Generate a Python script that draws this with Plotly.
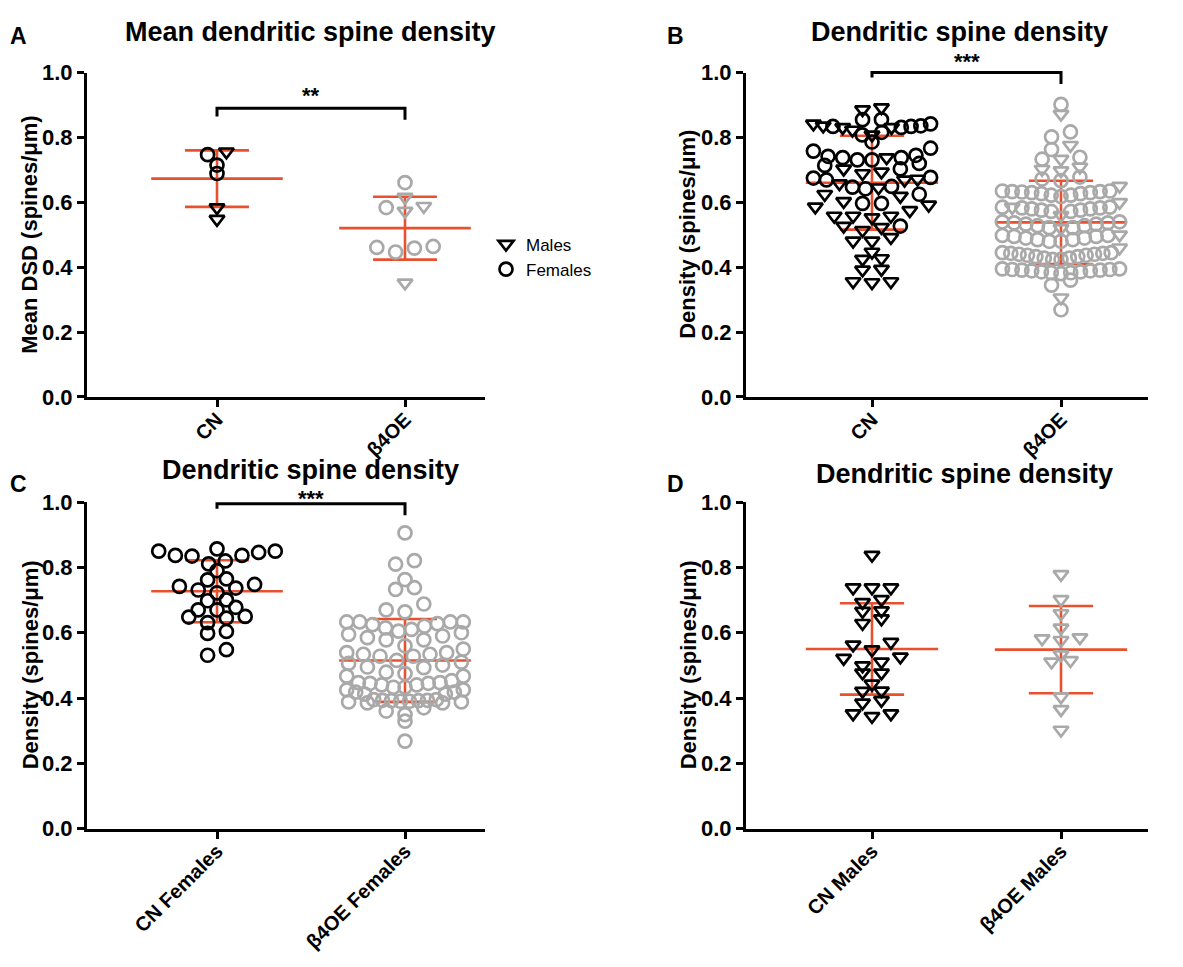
import numpy as np
import plotly.graph_objects as go

W, H = 1183, 967

# ---------------- DATA ----------------
# Panel A: mean DSD per animal
a_categories = ["CN", "β4OE"]
a_cn_male = [0.756, 0.584, 0.548]
a_cn_female = [0.747, 0.715, 0.689]
a_oe_male = [0.616, 0.573, 0.588, 0.352]
a_oe_female = [0.661, 0.584, 0.464, 0.459, 0.447, 0.461]

# Panel B: all dendrites
b_categories = ["CN", "β4OE"]
b_cn_female = [0.855, 0.836, 0.834, 0.831, 0.834, 0.842, 0.855, 0.808, 0.816, 0.786,
               0.758, 0.745, 0.767, 0.742, 0.731, 0.720, 0.703, 0.714, 0.731, 0.738,
               0.738, 0.677, 0.669, 0.649, 0.647, 0.675, 0.625, 0.642, 0.597, 0.597, 0.527]
b_cn_male = [0.892, 0.886, 0.842, 0.831, 0.823, 0.831, 0.836, 0.808, 0.738, 0.703,
             0.694, 0.689, 0.669, 0.645, 0.658, 0.672, 0.619, 0.603, 0.592, 0.575,
             0.625, 0.558, 0.586, 0.553, 0.558, 0.558, 0.523, 0.492, 0.514, 0.527,
             0.481, 0.481, 0.427, 0.425, 0.447, 0.394, 0.392, 0.356, 0.353, 0.356]
b_oe_female = [0.902, 0.817, 0.802, 0.763, 0.739, 0.733, 0.678, 0.672, 0.667,
               0.635, 0.633, 0.632, 0.630, 0.627, 0.622, 0.618, 0.622, 0.627, 0.630, 0.633, 0.635,
               0.585, 0.583, 0.580, 0.576, 0.572, 0.572, 0.576, 0.580, 0.583, 0.585,
               0.540, 0.537, 0.533, 0.528, 0.522, 0.522, 0.528, 0.533, 0.537, 0.540,
               0.498, 0.495, 0.490, 0.485, 0.480, 0.480, 0.485, 0.490, 0.495, 0.498,
               0.445, 0.443, 0.440, 0.437, 0.433, 0.428, 0.424, 0.424, 0.428, 0.433, 0.437, 0.440, 0.443, 0.445,
               0.395, 0.393, 0.391, 0.389, 0.386, 0.383, 0.380, 0.383, 0.386, 0.389, 0.391, 0.393, 0.395,
               0.360, 0.345, 0.269]
b_oe_male = [0.872, 0.776, 0.733, 0.709, 0.702, 0.698, 0.650, 0.600, 0.585, 0.560,
             0.520, 0.500, 0.460, 0.306]

# Panel C: females
c_categories = ["CN Females", "β4OE Females"]
c_cn_female = [0.857, 0.850, 0.837, 0.835, 0.811, 0.820, 0.837, 0.846, 0.850,
               0.765, 0.748, 0.737, 0.731, 0.742, 0.762, 0.790, 0.722,
               0.701, 0.678, 0.650, 0.645, 0.670, 0.670, 0.698, 0.631, 0.648,
               0.604, 0.598, 0.548, 0.531]
c_oe_female = [0.906, 0.821, 0.810, 0.763, 0.738, 0.733, 0.688, 0.670, 0.664,
               0.633, 0.633, 0.628, 0.620, 0.610, 0.600, 0.590, 0.585, 0.595, 0.605, 0.615, 0.625, 0.633, 0.633,
               0.578, 0.578, 0.550, 0.560,
               0.539, 0.534, 0.528, 0.515, 0.510, 0.528, 0.534, 0.539, 0.506, 0.501, 0.495, 0.493,
               0.479, 0.467, 0.453, 0.467, 0.475,
               0.447, 0.445, 0.440, 0.433, 0.425, 0.418, 0.412, 0.412, 0.418, 0.425, 0.433, 0.440, 0.445, 0.447,
               0.395, 0.393, 0.392, 0.390, 0.388, 0.385, 0.385, 0.388, 0.390, 0.392, 0.393, 0.395,
               0.370, 0.360, 0.349, 0.329, 0.268]

# Panel D: males
d_categories = ["CN Males", "β4OE Males"]
d_cn_male = [0.838, 0.738, 0.738, 0.738, 0.702, 0.693, 0.666, 0.668, 0.629, 0.643,
             0.571, 0.563, 0.548, 0.522, 0.526, 0.499, 0.511, 0.477, 0.477, 0.443,
             0.421, 0.422, 0.393, 0.385, 0.352, 0.344, 0.352]
d_oe_male = [0.779, 0.702, 0.659, 0.615, 0.582, 0.577, 0.585, 0.533, 0.511, 0.515,
             0.404, 0.365, 0.302]

y_ticks = [0.0, 0.2, 0.4, 0.6, 0.8, 1.0]

# ---------------- STYLE ----------------
RED = "#E8502E"
BLACK = "#000000"
GREY = "#A9A9A9"
FONT = "Arial, 'Liberation Sans', Helvetica, sans-serif"

# panel frames in pixels: x-axis span, y pixel of 0 and 1, pixel of the two categories
frames = {
    "A": dict(xs=(79, 477), ys=(387, 54), cats=(209, 397), ax="", title="Mean dendritic spine density",
              ytitle="Mean DSD (spines/μm)", labels=a_categories,
              letter=(10, 1, "top"), tpos=(302, 12), ytx=22),
    "B": dict(xs=(738, 1140), ys=(387, 54), cats=(864, 1053), ax="2", title="Dendritic spine density",
              ytitle="Density (spines/μm)", labels=b_categories,
              letter=(668, 1, "top"), tpos=(951, 12), ytx=680),
    "C": dict(xs=(79, 477), ys=(830, 495), cats=(209, 397), ax="3", title="Dendritic spine density",
              ytitle="Density (spines/μm)", labels=c_categories,
              letter=(10, 476, "middle"), tpos=(302, 462), ytx=22),
    "D": dict(xs=(738, 1140), ys=(830, 495), cats=(864, 1053), ax="4", title="Dendritic spine density",
              ytitle="Density (spines/μm)", labels=d_categories,
              letter=(668, 476, "middle"), tpos=(956, 466), ytx=680),
}

for k, f in frames.items():
    unit = f["cats"][1] - f["cats"][0]
    f["xr"] = ((f["xs"][0] - f["cats"][0]) / unit, (f["xs"][1] - f["cats"][0]) / unit)
    f["xd"] = (f["xs"][0] / W, f["xs"][1] / W)
    f["yd"] = (1 - f["ys"][0] / H, 1 - f["ys"][1] / H)


def to_paper(f, xv, yv):
    px = f["xd"][0] + (xv - f["xr"][0]) / (f["xr"][1] - f["xr"][0]) * (f["xd"][1] - f["xd"][0])
    py = f["yd"][0] + yv * (f["yd"][1] - f["yd"][0])
    return px, py


def swarm(vals, bw=0.04, gap=0.018, step=0.1, wmax=0.31):
    vals = np.asarray(vals, float)
    order = np.argsort(vals, kind="stable")
    offs = np.zeros(len(vals))
    rows, cur = [], [order[0]]
    for idx in order[1:]:
        if vals[idx] - vals[cur[-1]] > gap or vals[idx] - vals[cur[0]] > bw:
            rows.append(cur)
            cur = [idx]
        else:
            cur.append(idx)
    rows.append(cur)
    for row in rows:
        n = len(row)
        s = step if n == 1 else min(step, 2 * wmax / (n - 1))
        if n % 2:
            slots = [0] + [k * sg for k in range(1, n // 2 + 1) for sg in (-1, 1)]
        else:
            slots = [(k + 0.5) * sg for k in range(n // 2) for sg in (-1, 1)]
        for idx, sl in zip(row, slots):
            offs[idx] = sl * s
    return offs


fig = go.Figure()

groups = {
    "A": [(a_cn_male, a_cn_female, BLACK), (a_oe_male, a_oe_female, GREY)],
    "B": [(b_cn_male, b_cn_female, BLACK), (b_oe_male, b_oe_female, GREY)],
    "C": [([], c_cn_female, BLACK), ([], c_oe_female, GREY)],
    "D": [(d_cn_male, [], BLACK), (d_oe_male, [], GREY)],
}

MEAN_HW, CAP_HW = 0.35, 0.17
TRI = dict(symbol="triangle-down-open", size=13)
CIR = dict(symbol="circle-open", size=13)
LW = 2.7

for key, f in frames.items():
    xa, ya = "x" + f["ax"], "y" + f["ax"]
    lx, ly = [], []
    for i, (males, females, col) in enumerate(groups[key]):
        v = np.array(list(males) + list(females), float)
        m, sd = v.mean(), v.std(ddof=1)
        lx += [i - MEAN_HW, i + MEAN_HW, None, i, i, None,
               i - CAP_HW, i + CAP_HW, None, i - CAP_HW, i + CAP_HW, None]
        ly += [m, m, None, m - sd, m + sd, None, m + sd, m + sd, None, m - sd, m - sd, None]
    fig.add_trace(go.Scatter(x=lx, y=ly, mode="lines", line=dict(color=RED, width=2.6),
                             xaxis=xa, yaxis=ya, showlegend=False, hoverinfo="skip"))
    for i, (males, females, col) in enumerate(groups[key]):
        v = list(males) + list(females)
        offs = swarm(v)
        nm = len(males)
        if nm:
            fig.add_trace(go.Scatter(x=i + offs[:nm], y=males, mode="markers",
                                     marker=dict(**TRI, color=col, line=dict(width=LW, color=col)),
                                     xaxis=xa, yaxis=ya, showlegend=False))
        if len(females):
            fig.add_trace(go.Scatter(x=i + offs[nm:], y=females, mode="markers",
                                     marker=dict(**CIR, color=col, line=dict(width=LW, color=col)),
                                     xaxis=xa, yaxis=ya, showlegend=False))

# legend entries
fig.add_trace(go.Scatter(x=[None], y=[None], mode="markers", name="Males",
                         marker=dict(**TRI, color=BLACK, line=dict(width=LW, color=BLACK)),
                         xaxis="x", yaxis="y"))
fig.add_trace(go.Scatter(x=[None], y=[None], mode="markers", name="Females",
                         marker=dict(**CIR, color=BLACK, line=dict(width=LW, color=BLACK)),
                         xaxis="x", yaxis="y"))

axis_style = dict(showline=True, linewidth=3, linecolor=BLACK, ticks="outside", ticklen=7,
                  tickwidth=3, tickcolor=BLACK, showgrid=False, zeroline=False, mirror=False)

layout = dict(width=W, height=H, margin=dict(l=0, r=0, t=0, b=0), plot_bgcolor="white",
              paper_bgcolor="white", font=dict(family=FONT, color=BLACK))
annotations = []
shapes = []
for key, f in frames.items():
    xn, yn = "xaxis" + f["ax"], "yaxis" + f["ax"]
    layout[xn] = dict(domain=list(f["xd"]), range=list(f["xr"]), anchor="y" + f["ax"],
                      tickmode="array", tickvals=[0, 1], ticktext=f["labels"], tickangle=-45,
                      ticklabelstandoff=-7,
                      tickfont=dict(family=FONT, size=20, color=BLACK, weight="bold"),
                      **axis_style)
    layout[yn] = dict(domain=list(f["yd"]), range=[0, 1], anchor="x" + f["ax"],
                      tickmode="array", tickvals=y_ticks, ticktext=[f"{t:.1f}" for t in y_ticks],
                      tickfont=dict(family=FONT, size=22, color=BLACK, weight="bold"),
                      **axis_style)
    lx_, ly_, lanc = f["letter"]
    annotations.append(dict(text=f"<b>{key}</b>", xref="paper", yref="paper",
                            x=lx_ / W, y=1 - ly_ / H, xanchor="center",
                            yanchor=lanc, showarrow=False, font=dict(family=FONT, size=23)))
    annotations.append(dict(text=f"<b>{f['title']}</b>", xref="paper", yref="paper",
                            x=f["tpos"][0] / W, y=1 - f["tpos"][1] / H, xanchor="center",
                            yanchor="middle", showarrow=False, font=dict(family=FONT, size=27)))
    annotations.append(dict(text=f"<b>{f['ytitle']}</b>", xref="paper", yref="paper",
                            x=f["ytx"] / W, y=sum(f["yd"]) / 2, xanchor="center",
                            yanchor="middle", textangle=-90, showarrow=False,
                            font=dict(family=FONT, size=22)))

# significance brackets: (bracket level, left foot, right foot, label, label shift px)
brackets = {"A": (0.89, 0.865, 0.855, "**", -2), "B": (1.0, 0.985, 0.965, "***", -3),
            "C": (0.995, 0.98, 0.96, "***", -9)}
for key, (top, lft, rgt, stars, shift) in brackets.items():
    f = frames[key]
    x0, yt = to_paper(f, 0, top)
    x1, _ = to_paper(f, 1, top)
    _, yl = to_paper(f, 0, lft)
    _, yr = to_paper(f, 1, rgt)
    shapes.append(dict(type="path", xref="paper", yref="paper",
                       path=f"M {x0},{yl} L {x0},{yt} L {x1},{yt} L {x1},{yr}",
                       line=dict(color=BLACK, width=3)))
    annotations.append(dict(text=f"<b>{stars}</b>", xref="paper", yref="paper",
                            x=(x0 + x1) / 2, y=yt, yshift=shift, xanchor="center",
                            yanchor="bottom", showarrow=False, font=dict(family=FONT, size=22)))

layout["annotations"] = annotations
layout["shapes"] = shapes
layout["legend"] = dict(x=478 / W, y=1 - 212 / H, xanchor="left", yanchor="top",
                        bgcolor="rgba(0,0,0,0)", font=dict(family=FONT, size=17, color=BLACK),
                        itemwidth=30, tracegroupgap=0)
layout["showlegend"] = True
fig.update_layout(**layout)

fig.write_html("out.html")
